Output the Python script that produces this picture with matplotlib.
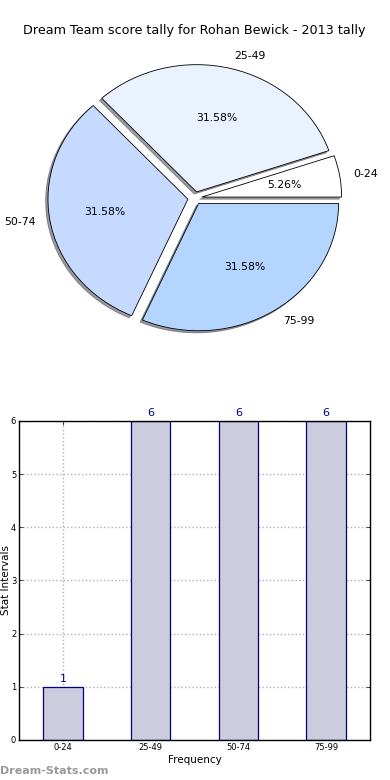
import matplotlib
matplotlib.use("Agg")
import matplotlib.pyplot as plt

categories = ["0-24", "25-49", "50-74", "75-99"]
counts = [1, 6, 6, 6]
pie_colors = ["#ffffff", "#eaf2ff", "#c6d9ff", "#b3d5ff"]
title = "Dream Team score tally for Rohan Bewick - 2013 tally"

fig = plt.figure(figsize=(3.9, 7.8), dpi=100)
fig.text(0.497, 0.961, title, ha="center", va="center", fontsize=9.2)

ax1 = fig.add_axes([0.051, 0.542, 0.897, 0.408])
wedges, texts, autotexts = ax1.pie(
    counts, labels=categories, colors=pie_colors, explode=[0.05] * 4,
    autopct="%1.2f%%", shadow={"ox": -0.012, "oy": -0.012, "shade": 0.75}, startangle=0,
    wedgeprops=dict(edgecolor="black", linewidth=0.6),
    textprops=dict(fontsize=7.8))
ax1.set_aspect("auto")
ax1.set_xlim(-1.25, 1.25)
ax1.set_ylim(-1.25, 1.25)

ax2 = fig.add_axes([0.0487, 0.0513, 0.9, 0.409])
x = list(range(len(categories)))
bars = ax2.bar(x, counts, width=0.45, color="#ccccdf", edgecolor="#000080", linewidth=0.9, zorder=2)
for xi, c in zip(x, counts):
    ax2.text(xi, c + 0.06, str(c), ha="center", va="bottom", color="#000080", fontsize=8)
ax2.set_xlim(-0.5, 3.5)
ax2.set_ylim(0, 6)
ax2.set_xticks(x)
ax2.set_xticklabels(categories)
ax2.set_yticks(range(0, 7))
ax2.tick_params(labelsize=6, direction="in", top=True, right=True, length=3, width=0.5, pad=2)
ax2.grid(True, linestyle=":", color="#b0b0b0", linewidth=1.0, zorder=0)
ax2.set_axisbelow(True)
ax2.set_xlabel("Frequency", fontsize=7.5, labelpad=2)
ax2.set_ylabel("Stat Intervals", fontsize=7.5, va="center")
ax2.yaxis.set_label_coords(-0.036, 0.5)
for s in ax2.spines.values():
    s.set_linewidth(1.0)

fig.text(0.0, 0.0115, "Dream-Stats.com", fontsize=8, color="#999999", ha="left", va="center", fontweight="semibold")

fig.savefig("out.png", dpi=100)
